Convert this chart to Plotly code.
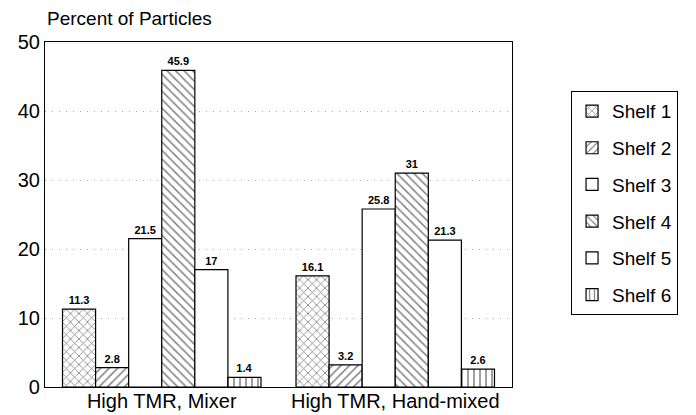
import plotly.graph_objects as go

categories = ["High TMR, Mixer", "High TMR, Hand-mixed"]
series_names = ["Shelf 1", "Shelf 2", "Shelf 3", "Shelf 4", "Shelf 5", "Shelf 6"]
shelf1 = [11.3, 16.1]
shelf2 = [2.8, 3.2]
shelf3 = [21.5, 25.8]
shelf4 = [45.9, 31]
shelf5 = [17, 21.3]
shelf6 = [1.4, 2.6]
values = [shelf1, shelf2, shelf3, shelf4, shelf5, shelf6]
patterns = ["x", "/", "", "\\", "", "|"]

FONT = "Liberation Sans, Arial, Helvetica, sans-serif"

fig = go.Figure()
for i, (name, vals, pat) in enumerate(zip(series_names, values, patterns)):
    fig.add_trace(go.Bar(
        x=categories, y=vals, name=name,
        legendgroup=f"g{i}",
        marker=dict(color="white", line=dict(color="black", width=1.2),
                    pattern=dict(shape=pat, fgcolor="black", bgcolor="white",
                                 size=6, solidity=0.25)),
        text=[f"<b>{v:g}</b>" for v in vals], textposition="outside",
        textfont=dict(size=11, color="black", family=FONT),
        cliponaxis=False,
    ))

fig.update_layout(
    width=696, height=415,
    margin=dict(l=45, r=184, t=42, b=28, autoexpand=False),
    paper_bgcolor="white", plot_bgcolor="white",
    font=dict(family=FONT, color="black"),
    barmode="group", bargap=0.15, bargroupgap=0,
    showlegend=True,
    legend=dict(x=1.126, y=0.858, xanchor="left", yanchor="top",
                bordercolor="black", borderwidth=1.2,
                font=dict(size=19, family=FONT),
                tracegroupgap=9, traceorder="grouped", itemwidth=30),
    annotations=[dict(text="Percent of Particles", xref="paper", yref="paper",
                      x=0.0, y=1.0, xanchor="left", yanchor="bottom",
                      yshift=11, showarrow=False, font=dict(size=19, family=FONT))],
)
fig.update_xaxes(showline=True, linecolor="black", linewidth=1.2, mirror=True,
                 ticks="", tickfont=dict(size=20), range=[-0.5, 1.5],
                 automargin=False, ticklabelstandoff=-4)
fig.update_yaxes(showline=True, linecolor="black", linewidth=1.2, mirror=True,
                 range=[0, 50], dtick=10, ticks="", tickfont=dict(size=20),
                 showgrid=True, gridcolor="#aaaaaa", griddash="1px,6px", gridwidth=1,
                 zeroline=False, automargin=False)

fig.write_html("out.html")
